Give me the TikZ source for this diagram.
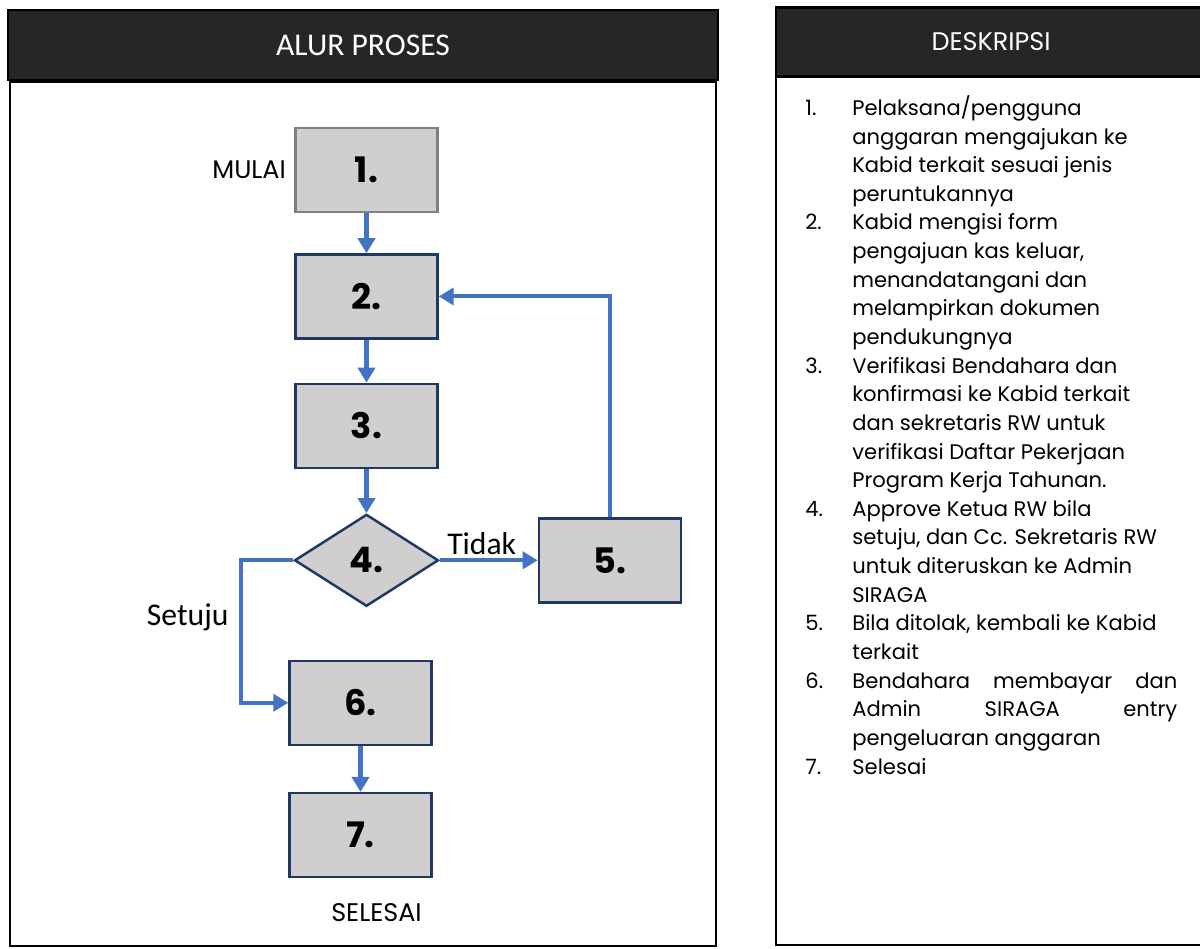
\documentclass[tikz,border=0pt]{standalone}
\usepackage{fontspec}
\setmainfont{Poppins}
\newfontfamily\carlito{Carlito}
\usetikzlibrary{arrows.meta,positioning,shapes.geometric}
\definecolor{headdark}{HTML}{262626}
\definecolor{boxgrey}{HTML}{D0CECE}
\definecolor{boxnavy}{HTML}{1F3864}
\definecolor{edgegrey}{HTML}{808080}
\definecolor{flowblue}{HTML}{4472C4}
\tikzset{
  panel/.style={draw=black, line width=1.2pt},
  headbar/.style={panel, fill=headdark, text=white, inner sep=0pt},
  stepbox/.style={draw=boxnavy, fill=boxgrey, line width=1.4pt, minimum width=2.84cm, minimum height=1.68cm, font=\fontsize{20}{24}\selectfont\bfseries},
  stepfirst/.style={stepbox, draw=edgegrey},
  decide/.style={stepbox, diamond, aspect=1.57, inner sep=0pt, minimum width=2.88cm, minimum height=1.84cm},
  flow/.style={-{Triangle[length=3mm, width=3.4mm]}, line width=2.3pt, flowblue},
  flowlabel/.style={font=\carlito\fontsize{18}{18}\selectfont, text=black, inner sep=2pt},
  endlabel/.style={font=\fontsize{14.5}{16}\selectfont, inner sep=0pt},
}

\begin{document}
\begin{tikzpicture}[x=0.02cm, y=-0.02cm]
  \useasboundingbox (0,0) rectangle (1200,948);
  % panels
  \draw[panel] (10,82) rectangle (716,946);
  \node[headbar, minimum width=14.2cm, minimum height=1.4cm, font=\carlito\fontsize{18}{20}\selectfont] (hdrflow) at (363,45) {ALUR PROSES};
  \draw[panel] (776,76) rectangle (1206,945);
  \node[headbar, minimum width=8.6cm, minimum height=1.38cm, font=\fontsize{14.5}{16}\selectfont] (hdrdesc) at (991,42) {DESKRIPSI};

  % flow
  \node[stepfirst] (s1) at (366.5,170) {1.};
  \node[stepbox, below=0.80cm of s1] (s2) {2.};
  \node[stepbox, below=0.86cm of s2] (s3) {3.};
  \node[decide, below=0.88cm of s3] (s4) {4.};
  \node[stepbox, right=1.96cm of s4] (s5) {5.};
  \node[stepbox, below=1.04cm of s4, xshift=-0.12cm] (s6) {6.};
  \node[stepbox, below=0.92cm of s6] (s7) {7.};
  \node[endlabel, left=0.16cm of s1] (start) {MULAI};
  \node[endlabel, below=0.5cm of s7, xshift=0.32cm] (finish) {SELESAI};
  \coordinate (jog) at (241,0);

  \draw[flow] (s1) -- (s2);
  \draw[flow] (s2) -- (s3);
  \draw[flow] (s3) -- (s4);
  \draw[flow] (s4) -- node[flowlabel, above, xshift=-0.14cm]{Tidak} (s5);
  \draw[flow] (s5) |- (s2);
  \draw[flow] (s4.west) -- (s4.west -| jog) |- node[flowlabel, left, pos=0.2, xshift=-0.14cm]{Setuju} (s6.west);
  \draw[flow] (s6) -- (s7);

  % description
  \node[anchor=north west, inner sep=0pt, font=\fontsize{12}{16.3}\selectfont] (desc) at (805,95) {%
    \begin{tabular}{@{}p{0.94cm}@{}p{6.5cm}@{}}
    1. & Pelaksana/pengguna\newline anggaran mengajukan ke\newline Kabid terkait sesuai jenis\newline peruntukannya\\
    2. & Kabid mengisi form\newline pengajuan kas keluar,\newline menandatangani dan\newline melampirkan dokumen\newline pendukungnya\\
    3. & Verifikasi Bendahara dan\newline konfirmasi ke Kabid terkait\newline dan sekretaris RW untuk\newline verifikasi Daftar Pekerjaan\newline Program Kerja Tahunan.\\
    4. & Approve Ketua RW bila\newline setuju, dan Cc. Sekretaris RW\newline untuk diteruskan ke Admin\newline SIRAGA\\
    5. & Bila ditolak, kembali ke Kabid\newline terkait\\
    6. & \makebox[\linewidth][s]{Bendahara membayar dan}\newline \makebox[\linewidth][s]{Admin SIRAGA entry}\newline pengeluaran anggaran\\
    7. & Selesai
    \end{tabular}};
\end{tikzpicture}
\end{document}
